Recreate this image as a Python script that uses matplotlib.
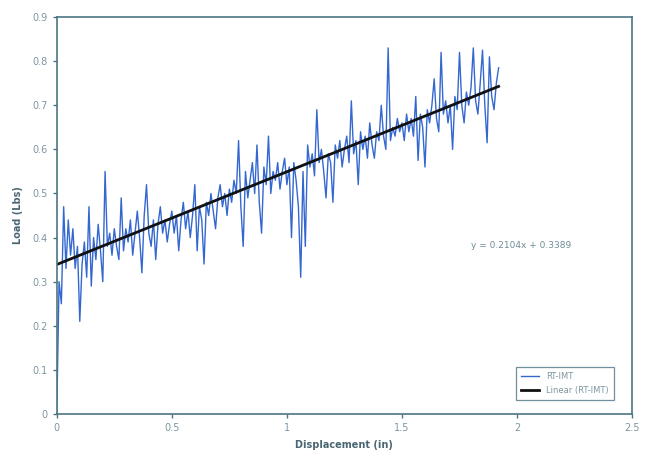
import numpy as np
import matplotlib.pyplot as plt

# Load vs displacement readings (RT-IMT), sampled every 0.01 in
displacement = np.round(np.arange(0, 1.925, 0.01), 2)
load = [
    0.00, 0.30, 0.25, 0.47, 0.33, 0.44, 0.36, 0.42, 0.33, 0.38,
    0.21, 0.34, 0.39, 0.31, 0.47, 0.29, 0.40, 0.35, 0.43, 0.37,
    0.30, 0.55, 0.38, 0.41, 0.36, 0.42, 0.38, 0.35, 0.49, 0.37,
    0.42, 0.39, 0.44, 0.36, 0.41, 0.46, 0.40, 0.32, 0.45, 0.52,
    0.41, 0.38, 0.44, 0.35, 0.43, 0.47, 0.41, 0.44, 0.39, 0.43,
    0.46, 0.41, 0.45, 0.37, 0.44, 0.48, 0.42, 0.46, 0.40, 0.45,
    0.52, 0.37, 0.47, 0.44, 0.34, 0.48, 0.45, 0.50, 0.46, 0.42,
    0.49, 0.52, 0.47, 0.50, 0.45, 0.51, 0.48, 0.53, 0.50, 0.62,
    0.47, 0.38, 0.55, 0.49, 0.53, 0.57, 0.50, 0.61, 0.48, 0.41,
    0.56, 0.52, 0.63, 0.50, 0.55, 0.53, 0.57, 0.51, 0.55, 0.58,
    0.52, 0.56, 0.40, 0.57, 0.53, 0.47, 0.31, 0.55, 0.38, 0.61,
    0.56, 0.59, 0.54, 0.69, 0.57, 0.60, 0.55, 0.49, 0.59, 0.57,
    0.48, 0.61, 0.58, 0.62, 0.56, 0.60, 0.63, 0.57, 0.71, 0.59,
    0.62, 0.52, 0.64, 0.60, 0.63, 0.58, 0.66, 0.61, 0.58, 0.64,
    0.62, 0.70, 0.63, 0.60, 0.83, 0.62, 0.65, 0.63, 0.67, 0.64,
    0.66, 0.62, 0.68, 0.64, 0.67, 0.63, 0.72, 0.575, 0.68, 0.65,
    0.56, 0.69, 0.66, 0.70, 0.76, 0.67, 0.64, 0.82, 0.68, 0.71,
    0.66, 0.70, 0.60, 0.72, 0.69, 0.82, 0.70, 0.66, 0.73, 0.70,
    0.74, 0.83, 0.71, 0.68, 0.75, 0.825, 0.70, 0.615, 0.81, 0.72,
    0.69, 0.75, 0.785,
]

# linear trendline coefficients as printed on the chart
slope = 0.2104
intercept = 0.3389

axis_color = '#4d7584'
text_color = '#7f96a0'

fig = plt.figure(figsize=(6.45, 4.62), dpi=100)
ax = fig.add_axes([0.088, 0.104, 0.892, 0.859])

ax.plot(displacement, load, color='#3467d0', lw=1.0, label='RT-IMT')
fit_x = np.array([0, displacement[-1]])
ax.plot(fit_x, slope * fit_x + intercept, color='#111111', lw=2.0, label='Linear (RT-IMT)')

ax.text(1.80, 0.383, 'y = 0.2104x + 0.3389', fontsize=6.5, color='#6f8c98', ha='left', va='center')

ax.set_xlim(0, 2.5)
ax.set_ylim(0, 0.9)
ax.set_xticks([0, 0.5, 1, 1.5, 2, 2.5])
ax.set_xticklabels(['0', '0.5', '1', '1.5', '2', '2.5'])
ax.set_yticks(np.arange(0, 0.91, 0.1))
ax.set_yticklabels(['0', '0.1', '0.2', '0.3', '0.4', '0.5', '0.6', '0.7', '0.8', '0.9'])

for sp in ax.spines.values():
    sp.set_color(axis_color)
    sp.set_linewidth(1.2)
ax.tick_params(colors=axis_color, labelcolor=text_color, labelsize=7, length=3, width=1)

ax.set_xlabel('Displacement (in)', fontsize=7, fontweight='bold', color='#4a6673', labelpad=5)
ax.set_ylabel('Load (Lbs)', fontsize=7, fontweight='bold', color='#4a6673', labelpad=7)

leg = ax.legend(loc='lower right', fontsize=6, frameon=True, fancybox=False,
                handlelength=2.2, borderpad=0.6, labelspacing=0.6,
                bbox_to_anchor=(0.975, 0.025))
leg.get_frame().set_edgecolor(axis_color)
leg.get_frame().set_linewidth(0.9)
for t in leg.get_texts():
    t.set_color(text_color)

fig.savefig('out.png', dpi=100)
